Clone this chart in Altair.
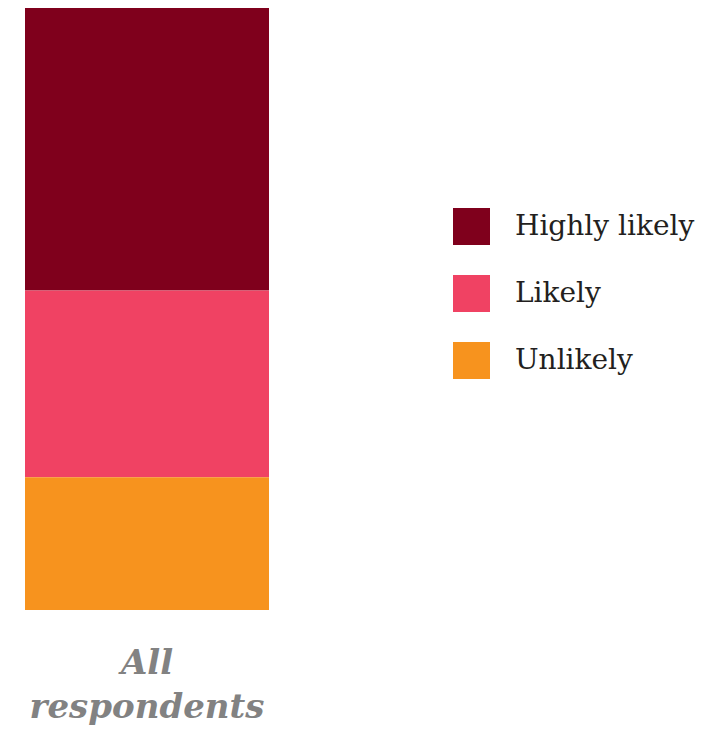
import altair as alt
import pandas as pd

groups = ["All respondents", "All respondents", "All respondents"]
responses = ["Highly likely", "Likely", "Unlikely"]
shares = [47, 31, 22]
stack_rank = [2, 1, 0]
colors = ["#7f001c", "#f04263", "#f7931e"]

df = pd.DataFrame({"group": groups, "response": responses, "share": shares, "rank": stack_rank})

chart = alt.Chart(df).mark_bar(size=244).encode(
    x=alt.X("group:N", title=None,
            scale=alt.Scale(paddingInner=0, paddingOuter=0),
            axis=alt.Axis(labelAngle=0, domain=False, ticks=False,
                          labelExpr="split(datum.label, ' ')",
                          labelFont="DejaVu Serif", labelFontSize=34,
                          labelFontWeight="bold", labelFontStyle="italic",
                          labelColor="#828282", labelLineHeight=44,
                          labelPadding=36, labelBaseline="top", labelLimit=500)),
    y=alt.Y("share:Q", stack="zero", axis=None,
            scale=alt.Scale(domain=[0, 100], nice=False)),
    color=alt.Color("response:N",
                    scale=alt.Scale(domain=responses, range=colors),
                    legend=alt.Legend(title=None, orient="none", legendX=428, legendY=201,
                                      symbolType="square", symbolSize=1369,
                                      symbolStrokeWidth=0, symbolOpacity=1,
                                      labelFont="DejaVu Serif", labelFontSize=28,
                                      labelColor="#231f20", labelOffset=25,
                                      rowPadding=30, labelLimit=400)),
    order=alt.Order("rank:Q"),
).properties(
    width=244, height=603,
    autosize=alt.AutoSizeParams(type="none"),
    padding={"left": 17, "top": -1, "right": 440, "bottom": 118},
).configure_view(stroke=None)

chart.save("out.html", embed_options={"renderer": "svg", "actions": False})
